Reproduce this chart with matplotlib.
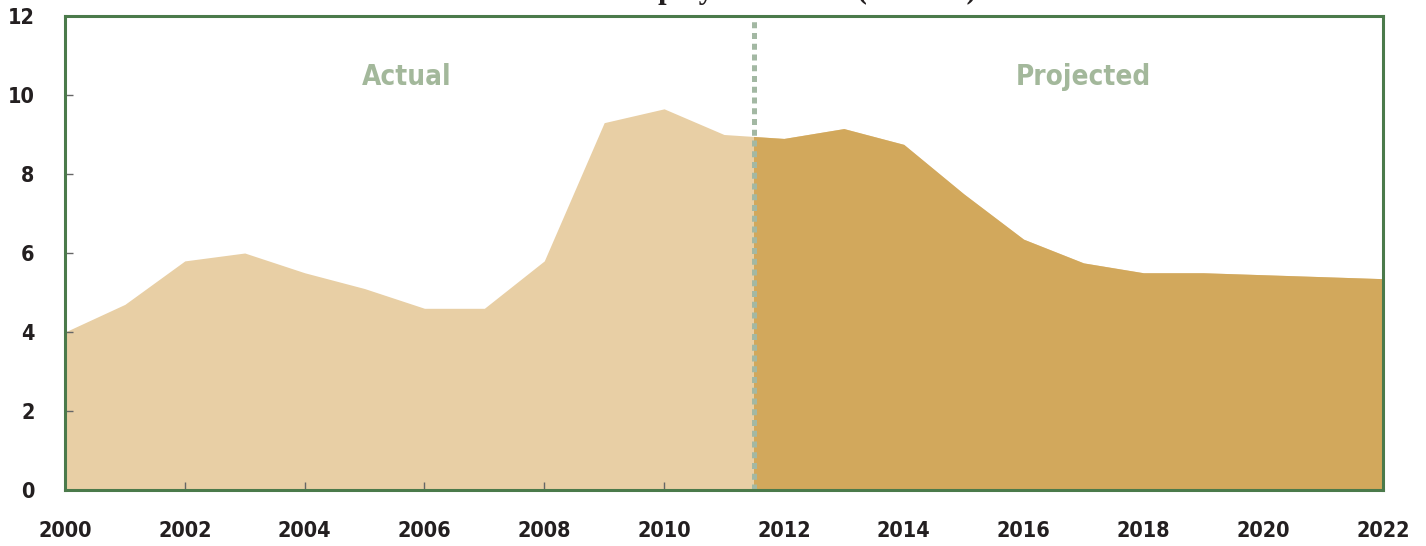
#!/usr/bin/env python3
"""Unemployment rate, actual vs projected, as a two-tone area chart."""

import matplotlib
matplotlib.use('Agg')
import matplotlib.pyplot as plt
from matplotlib.patches import Rectangle

# Data
years = [2000, 2001, 2002, 2003, 2004, 2005, 2006, 2007, 2008, 2009, 2010, 2011,
         2012, 2013, 2014, 2015, 2016, 2017, 2018, 2019, 2020, 2021, 2022]
rate = [4.0, 4.7, 5.8, 6.0, 5.5, 5.1, 4.6, 4.6, 5.8, 9.3, 9.65, 9.0,
        8.9, 9.15, 8.75, 7.5, 6.35, 5.75, 5.5, 5.5, 5.45, 5.4, 5.35]
split_year = 2011.5
xtick_years = list(range(2000, 2023, 2))
ytick_values = [0, 2, 4, 6, 8, 10, 12]

LABEL_FONT = ['DejaVu Sans', 'Liberation Sans']
TEXT_COLOR = '#231f20'
SPINE_COLOR = '#4b7a4b'
ACTUAL_COLOR = '#e8cfa5'
PROJ_COLOR = '#d2a85c'
NOTE_COLOR = '#a3b89b'

fig = plt.figure(figsize=(14.26, 5.46), dpi=100)
ax = fig.add_axes([65 / 1426, 1 - 490 / 546, (1383 - 65) / 1426, (490 - 16) / 546])

# full area in the light colour, then the projected part on top, clipped
ax.fill_between(years, rate, 0, color=ACTUAL_COLOR, linewidth=0, zorder=1)
proj = ax.fill_between(years, rate, 0, color=PROJ_COLOR, linewidth=0, zorder=2)
clip = Rectangle((split_year, 0), 2022 - split_year, 12, transform=ax.transData)
proj.set_clip_path(clip)

ax.axvline(split_year, color='#a3b8a3', linestyle=(0, (1.2, 0.95)), linewidth=3.6,
           solid_capstyle='butt', dash_capstyle='butt', zorder=3)

ax.text(2005.7, 10.45, 'Actual', ha='center', va='center', color=NOTE_COLOR,
        fontsize=20, fontweight='bold', fontstretch='condensed', family=LABEL_FONT)
ax.text(2017.0, 10.45, 'Projected', ha='center', va='center', color=NOTE_COLOR,
        fontsize=20, fontweight='bold', fontstretch='condensed', family=LABEL_FONT)

ax.set_xlim(2000, 2022)
ax.set_ylim(0, 12)
ax.set_xticks(xtick_years)
ax.set_yticks(ytick_values)
ax.set_xticklabels([str(y) for y in xtick_years])
ax.set_yticklabels([str(v) for v in ytick_values])
ax.tick_params(axis='both', direction='in', length=5.5, width=1, color='#666666',
               labelcolor=TEXT_COLOR, labelsize=15.5)
ax.tick_params(axis='x', pad=22)
ax.tick_params(axis='y', pad=22)
for lbl in ax.get_xticklabels() + ax.get_yticklabels():
    lbl.set_fontweight('bold')
    lbl.set_fontstretch('condensed')
    lbl.set_family(LABEL_FONT)

for side in ['left', 'right', 'top', 'bottom']:
    ax.spines[side].set_color(SPINE_COLOR)
    ax.spines[side].set_linewidth(2.2)
    ax.spines[side].set_zorder(5)

# title sits almost entirely above the canvas in the reference
fig.text(778 / 1426, 1 + 2 / 546, 'Unemployment Rate (Percent)', ha='center', va='baseline',
         fontsize=22, fontweight='bold', family=['Liberation Serif', 'DejaVu Serif'],
         color=TEXT_COLOR)

fig.savefig('out.png', dpi=100)
